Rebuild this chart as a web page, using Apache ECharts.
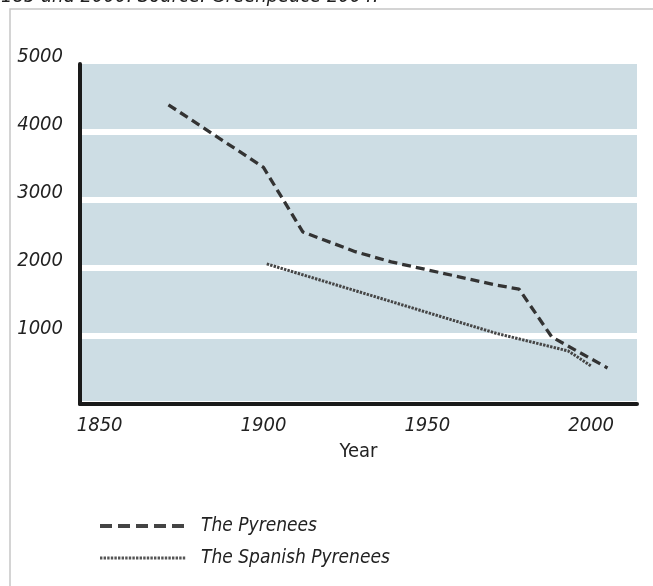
<!DOCTYPE html>
<html>
<head>
<meta charset="utf-8">
<script src="https://cdn.jsdelivr.net/npm/echarts@6/dist/echarts.min.js"></script>
<style>
html,body{margin:0;padding:0;background:#ffffff;}
#chart{width:653px;height:586px;}
</style>
</head>
<body>
<div id="chart"></div>
<script>
// ---- data ----
const pyreneesYears = [1871, 1900, 1912, 1928, 1939, 1971, 1978, 1988, 2005];
const pyreneesArea  = [4400, 3480, 2530, 2240, 2090, 1750, 1690, 985, 530];
const spanishYears  = [1901, 1971, 1993, 2000];
const spanishArea   = [2060, 1040, 780, 560];
const xTickLabels   = [1850, 1900, 1950, 2000];
const seriesNames   = ['The Pyrenees', 'The Spanish Pyrenees'];
const axisName      = 'Year';
const captionText   = '185 and 2000. Source: Greenpeace 2004.';

const pair = (xs, ys) => xs.map((x, i) => [x, ys[i]]);

const FONT = '"Liberation Sans Narrow","DejaVu Sans Condensed",Roboto,sans-serif';
const chart = echarts.init(document.getElementById('chart'), null, {renderer: 'canvas'});

const dashStyle = {color: '#333333', width: 3.3, type: [9, 5], cap: 'butt'};
const dotStyle  = {color: '#464646', width: 3, type: [2.4, 1.2], cap: 'butt'};
const noSymbol  = {color: 'rgba(0,0,0,0)', borderColor: 'rgba(0,0,0,0)', borderWidth: 0};

chart.setOption({
  animation: false,
  backgroundColor: '#ffffff',
  graphic: [
    {type: 'rect', z: -100, silent: true,
     shape: {x: 10, y: 9, width: 700, height: 700},
     style: {fill: 'none', stroke: '#c6c6c6', lineWidth: 1.5}},
    {type: 'text', x: 1, y: -13, silent: true,
     style: {text: captionText, fill: '#222', font: 'italic 20px ' + FONT}}
  ],
  grid: {left: 80, right: 16, top: 64, bottom: 182, show: true,
         backgroundColor: '#cddde4', borderWidth: 0},
  xAxis: {
    type: 'value', min: 1844, max: 2014,
    name: axisName, nameLocation: 'middle', nameGap: 38,
    nameTextStyle: {fontFamily: FONT, fontSize: 20, color: '#222'},
    axisLine: {show: true, onZero: false, lineStyle: {color: '#1a1a1a', width: 4}},
    axisTick: {show: false},
    splitLine: {show: false},
    axisLabel: {customValues: xTickLabels, margin: 12, fontFamily: FONT, fontStyle: 'italic',
                fontSize: 20, color: '#222', formatter: v => String(v)}
  },
  yAxis: {
    type: 'value', min: 0, max: 5000, interval: 1000,
    axisLine: {show: true, lineStyle: {color: '#1a1a1a', width: 4}},
    axisTick: {show: false},
    splitLine: {show: true, lineStyle: {width: 6,
      color: ['#ffffff', '#ffffff', '#ffffff', '#ffffff', '#ffffff', 'rgba(0,0,0,0)']}},
    axisLabel: {margin: 17, fontFamily: FONT, fontStyle: 'italic', fontSize: 20, color: '#222',
                verticalAlign: 'bottom', lineHeight: 14,
                formatter: v => (v === 0 ? '' : String(v))}
  },
  legend: {
    orient: 'vertical', left: 93, top: 509, itemWidth: 86, itemHeight: 14, itemGap: 8,
    textStyle: {fontFamily: FONT, fontStyle: 'italic', fontSize: 19, color: '#222',
                lineHeight: 24, padding: [0, 0, 0, 10]},
    data: [
      {name: seriesNames[0], itemStyle: noSymbol,
       lineStyle: {color: '#444', width: 4, type: [12, 6]}},
      {name: seriesNames[1], itemStyle: noSymbol,
       lineStyle: {color: '#555', width: 3, type: [2.4, 1.2]}}
    ]
  },
  series: [
    {name: seriesNames[0], type: 'line', symbol: 'none', data: pair(pyreneesYears, pyreneesArea),
     lineStyle: dashStyle, itemStyle: {color: '#333'}, z: 3},
    {name: seriesNames[1], type: 'line', symbol: 'none', data: pair(spanishYears, spanishArea),
     lineStyle: dotStyle, itemStyle: {color: '#464646'}, z: 2}
  ]
});
</script>
</body>
</html>
